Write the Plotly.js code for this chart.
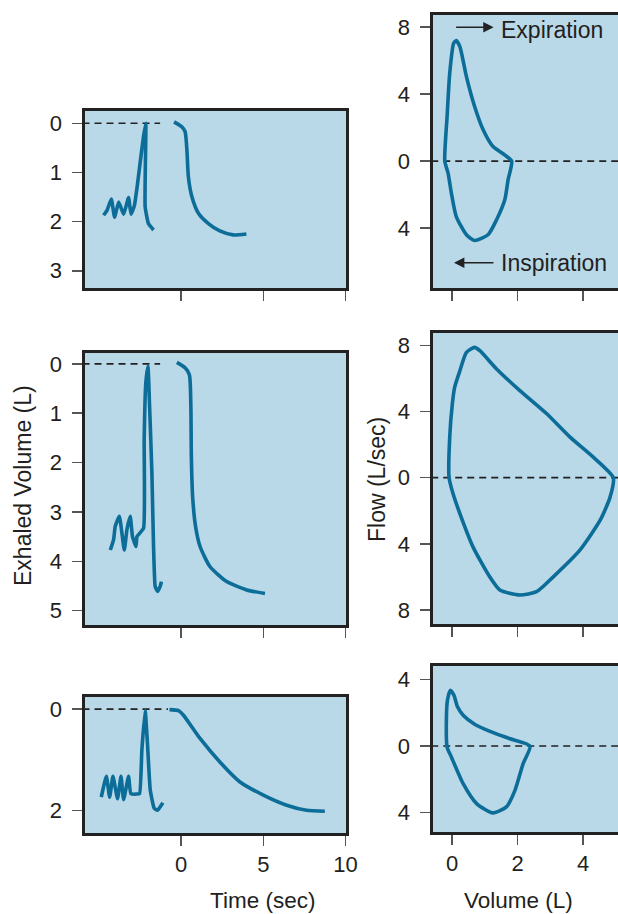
<!DOCTYPE html>
<html>
<head>
<meta charset="utf-8">
<script src="https://cdn.plot.ly/plotly-3.0.1.min.js"></script>
<style>
html,body{margin:0;padding:0;overflow:hidden;background:#fff;width:618px;height:914px;}
#chart{width:640px;height:914px;}
</style>
</head>
<body>
<div id="chart"></div>
<script>
// ---- Left column: spirograms (time in sec, exhaled volume in L) ----
const normTidalT = [-4.72,-4.51,-4.25,-4.05,-3.80,-3.50,-3.20,-3.05,-2.85,-2.65,-2.45,-2.29,-2.15,-2.18,-2.19,-1.99,-1.68];
const normTidalV = [1.87,1.77,1.54,1.91,1.60,1.85,1.51,1.85,1.68,1.22,0.68,0.27,0.0,0.9,1.70,2.04,2.17];
const normForcedT = [-0.43,0.04,0.24,0.35,0.44,0.65,1.05,1.66,2.35,3.16,3.97];
const normForcedV = [-0.03,0.07,0.17,0.54,1.09,1.49,1.83,2.04,2.19,2.27,2.25];

const restTidalT = [-4.31,-4.11,-4.01,-3.76,-3.46,-3.30,-3.10,-2.96,-2.75,-2.69,-2.29,-2.25,-2.15,-2.02,-1.92,-1.78,-1.68,-1.58,-1.44,-1.28,-1.20];
const restTidalV = [3.77,3.56,3.29,3.09,3.77,3.36,3.09,3.50,3.70,3.50,3.33,1.54,0.39,0.05,0.86,2.21,3.70,4.51,4.61,4.51,4.41];
const restForcedT = [-0.26,0.24,0.50,0.59,0.62,0.70,0.88,1.15,1.76,2.77,3.99,5.10];
const restForcedV = [-0.03,0.08,0.22,0.86,1.87,2.70,3.30,3.70,4.11,4.41,4.58,4.65];

const obstTidalT = [-4.86,-4.55,-4.35,-4.15,-3.87,-3.66,-3.50,-3.20,-3.06,-2.69,-2.53,-2.39,-2.19,-2.05,-1.88,-1.64,-1.44,-1.11];
const obstTidalV = [1.74,1.33,1.74,1.33,1.77,1.33,1.79,1.33,1.67,1.68,1.67,0.81,0.03,0.68,1.60,1.96,2.00,1.85];
const obstForcedT = [-0.71,-0.16,0.14,1.15,2.37,3.58,5.00,6.42,7.63,8.74];
const obstForcedV = [0.01,0.03,0.12,0.58,1.05,1.44,1.70,1.90,2.00,2.02];

// ---- Right column: flow-volume loops (volume L, flow L/sec) ----
const normLoopV = [-0.22,-0.15,-0.07,0.05,0.13,0.24,0.44,0.69,0.95,1.25,1.56,1.82,1.71,1.61,1.36,1.10,0.69,0.44,0.13,-0.02,-0.12,-0.22];
const normLoopF = [0,2.66,5.25,7.04,7.2,6.84,5.05,3.26,1.87,0.87,0.44,0,-1.12,-2.31,-3.50,-4.40,-4.74,-4.40,-3.31,-1.91,-0.72,0];

const restLoopV = [-0.09,-0.07,0.01,0.08,0.24,0.44,0.69,0.85,1.36,2.07,2.89,3.60,4.31,4.92,4.82,4.52,3.90,3.09,2.58,2.07,1.46,1.15,0.64,0.24,0.03,-0.09];
const restLoopF = [0,2.45,4.46,5.46,6.46,7.57,7.87,7.67,6.57,5.26,3.86,2.45,1.24,0,-1.19,-2.57,-4.38,-5.99,-6.89,-7.09,-6.79,-5.99,-4.18,-2.17,-0.96,0];

const obstLoopV = [-0.15,-0.17,-0.14,-0.05,0.06,0.16,0.34,0.70,1.20,1.75,2.38,2.17,1.92,1.66,1.25,0.75,0.34,-0.02,-0.15];
const obstLoopF = [-0.06,1.75,2.75,3.36,3.05,2.40,1.85,1.30,0.85,0.45,0,-1.06,-2.67,-3.67,-4.03,-3.47,-2.27,-0.66,-0.06];

// zero reference lines
const leftZeroT = [[-6, -1.28], [-6, -1.28], [-6, -0.8]];
const rightZeroV = [-1, 6];

// tick labels
const timeTicks = [0, 5, 10];
const volTicks = [0, 2, 4];
const spiroTicks1 = [0, 1, 2, 3];
const spiroTicks2 = [0, 1, 2, 3, 4, 5];
const spiroTicks3 = [0, 2];
const flowTicks1 = [8, 4, 0, -4];
const flowText1 = ['8', '4', '0', '4'];
const flowTicks2 = [8, 4, 0, -4, -8];
const flowText2 = ['8', '4', '0', '4', '8'];
const flowTicks3 = [4, 0, -4];
const flowText3 = ['4', '0', '4'];

const LINE = '#0b6d98';
const W = 640, H = 914;
const FONT = 'Liberation Sans, Arial, sans-serif';
const TXT = '#231f20';

function curve(x, y, xa, ya, sm) {
  return {x: x, y: y, xaxis: xa, yaxis: ya, type: 'scatter', mode: 'lines',
    line: {color: LINE, width: 3.6, shape: 'spline', smoothing: sm || 0.6}, hoverinfo: 'skip'};
}
function dash(x, xa, ya) {
  return {x: x, y: [0, 0], xaxis: xa, yaxis: ya, type: 'scatter', mode: 'lines',
    line: {color: '#222', width: 1.6, dash: '7px,5px'}, hoverinfo: 'skip'};
}

const data = [
  dash(leftZeroT[0], 'x', 'y'), dash(leftZeroT[1], 'x2', 'y2'), dash(leftZeroT[2], 'x3', 'y3'),
  dash(rightZeroV, 'x4', 'y4'), dash(rightZeroV, 'x5', 'y5'), dash(rightZeroV, 'x6', 'y6'),
  curve(normTidalT, normTidalV, 'x', 'y', 0.4), curve(normForcedT, normForcedV, 'x', 'y'),
  curve(restTidalT, restTidalV, 'x2', 'y2', 0.4), curve(restForcedT, restForcedV, 'x2', 'y2'),
  curve(obstTidalT, obstTidalV, 'x3', 'y3', 0.4), curve(obstForcedT, obstForcedV, 'x3', 'y3'),
  curve(normLoopV, normLoopF, 'x4', 'y4'),
  curve(restLoopV, restLoopF, 'x5', 'y5'),
  curve(obstLoopV, obstLoopF, 'x6', 'y6')
];

function px(a, b) { return [a / W, b / W]; }
function py(top, bot) { return [1 - bot / H, 1 - top / H]; }

const axBase = {
  showgrid: false, zeroline: false, showline: true, mirror: true,
  linecolor: '#222', linewidth: 2.6, ticks: 'outside', ticklen: 10, tickwidth: 1.5,
  tickcolor: '#555', tickfont: {family: FONT, size: 22, color: TXT}, fixedrange: true
};
function xax(dom, range, ticks, anchor, show) {
  return Object.assign({}, axBase, {domain: dom, range: range, tickvals: ticks, anchor: anchor,
    showticklabels: show, ticklabelstandoff: 0});
}
function yax(dom, range, ticks, text, anchor) {
  const o = Object.assign({}, axBase, {domain: dom, range: range, tickvals: ticks, anchor: anchor, ticklabelstandoff: 6});
  if (text) o.ticktext = text;
  return o;
}

const LX = px(85, 346), RX = px(433, 630);
const tRange = [-5.85, 10.03], vRange = [-0.58, 5.43];

function title(x, y, text, angle, size) {
  return {xref: 'paper', yref: 'paper', x: x / W, y: 1 - y / H, xanchor: 'center', yanchor: 'middle',
    text: text, textangle: angle || 0, showarrow: false, font: {size: size || 23, family: FONT, color: TXT}};
}

const layout = {
  width: W, height: H, margin: {l: 0, r: 0, t: 0, b: 0},
  paper_bgcolor: '#ffffff', plot_bgcolor: '#b9d8e8', showlegend: false,
  font: {family: FONT, color: TXT},
  xaxis:  xax(LX, tRange, timeTicks, 'y', false),
  xaxis2: xax(LX, tRange, timeTicks, 'y2', false),
  xaxis3: xax(LX, tRange, timeTicks, 'y3', true),
  xaxis4: xax(RX, vRange, volTicks, 'y4', false),
  xaxis5: xax(RX, vRange, volTicks, 'y5', false),
  xaxis6: xax(RX, vRange, volTicks, 'y6', true),
  yaxis:  yax(py(111, 288), [3.35, -0.25], spiroTicks1, null, 'x'),
  yaxis2: yax(py(353, 625), [5.29, -0.22], spiroTicks2, null, 'x2'),
  yaxis3: yax(py(697, 833), [2.45, -0.24], spiroTicks3, null, 'x3'),
  yaxis4: yax(py(15, 288), [-7.58, 8.73], flowTicks1, flowText1, 'x4'),
  yaxis5: yax(py(333, 624), [-8.84, 8.74], flowTicks2, flowText2, 'x5'),
  yaxis6: yax(py(666, 832), [-5.18, 4.82], flowTicks3, flowText3, 'x6'),
  annotations: [
    title(23, 486, 'Exhaled Volume (L)', -90),
    title(377, 480, 'Flow (L/sec)', -90),
    title(262.5, 900, 'Time (sec)', 0, 22.5),
    title(518.5, 900, 'Volume (L)', 0, 22.5),
    {xref: 'x4', yref: 'y4', x: 1.44, y: 7.85, xanchor: 'left', yanchor: 'middle', text: 'Expiration',
      showarrow: false, font: {size: 23, family: FONT, color: TXT}},
    {xref: 'x4', yref: 'y4', x: 1.44, y: -6.07, xanchor: 'left', yanchor: 'middle', text: 'Inspiration',
      showarrow: false, font: {size: 23, family: FONT, color: TXT}},
    {xref: 'x4', yref: 'y4', axref: 'x4', ayref: 'y4', x: 1.27, y: 8.0, ax: 0.08, ay: 8.0, text: '',
      showarrow: true, arrowhead: 2, arrowsize: 1.3, arrowwidth: 1.6, arrowcolor: '#222', standoff: 0},
    {xref: 'x4', yref: 'y4', axref: 'x4', ayref: 'y4', x: 0.06, y: -6.07, ax: 1.31, ay: -6.07, text: '',
      showarrow: true, arrowhead: 2, arrowsize: 1.3, arrowwidth: 1.6, arrowcolor: '#222', standoff: 0}
  ]
};

Plotly.newPlot('chart', data, layout, {staticPlot: true, displayModeBar: false});
</script>
</body>
</html>
